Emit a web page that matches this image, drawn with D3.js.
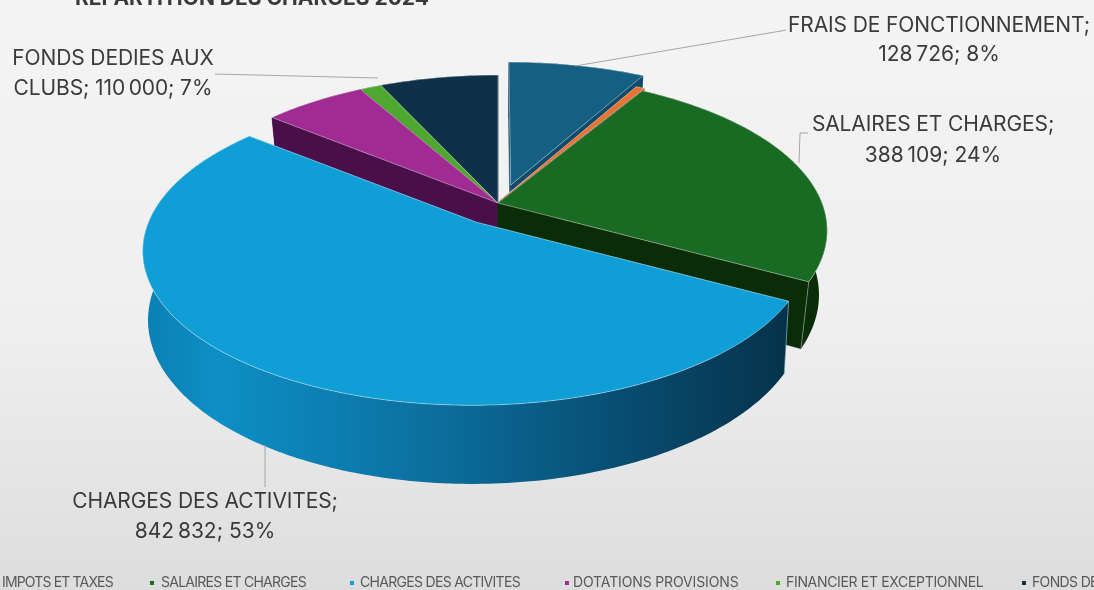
<!DOCTYPE html>
<html><head><meta charset="utf-8">
<script src="https://cdn.jsdelivr.net/npm/d3@7/dist/d3.min.js"></script>
<style>html,body{margin:0;padding:0;background:#eee;overflow:hidden}
svg{display:block;filter:blur(0.5px)}text{font-family:Inter,Roboto,sans-serif}</style>
</head><body><svg id="c" width="1094" height="590"></svg>
<script>
const chartTitle = "REPARTITION DES CHARGES 2024";
const categories = ["FRAIS DE FONCTIONNEMENT","IMPOTS ET TAXES","SALAIRES ET CHARGES","CHARGES DES ACTIVITES","DOTATIONS PROVISIONS","FINANCIER ET EXCEPTIONNEL","FONDS DEDIES AUX CLUBS"];
const values = [128726, 8000, 388109, 842832, 95000, 20000, 110000];
const topColors = ["#156082","#e97132","#196b24","#0f9ed5","#a02b93","#4ea72e","#0e3049"];
const wallColors = ["#0f4a6b","#a04d1f","#0a2d08","#0f9ed5","#4a0e4a","#2c6a18","#08222f"];

const W=1094,H=590;
const svg=d3.select("#c");
const defs=svg.append("defs");
const bg=defs.append("linearGradient").attr("id","bg").attr("x1",0).attr("y1",0).attr("x2",0).attr("y2",1);
bg.append("stop").attr("offset",0).attr("stop-color","#f4f4f4");
bg.append("stop").attr("offset",.55).attr("stop-color","#efefef");
bg.append("stop").attr("offset",1).attr("stop-color","#dddddd");
svg.append("rect").attr("width",W).attr("height",H).attr("fill","url(#bg)");
const bw=defs.append("linearGradient").attr("id","blueWall").attr("gradientUnits","userSpaceOnUse").attr("x1",140).attr("y1",0).attr("x2",790).attr("y2",0);
[[0,"#0a7fb2"],[.12,"#0d8fc6"],[.45,"#0c6f9e"],[.75,"#084c70"],[1,"#06324a"]].forEach(s=>bw.append("stop").attr("offset",s[0]).attr("stop-color",s[1]));

// perspective projection of the disc plane
const cx=498,cy=203,A=324,B=150.6,P=0.177,SHRINK=[0.975,0.975,0.975,0.985,0.975,0.975,0.975],DEPTHS=[63,63,63,66,63,63,63];
const proj=(X,Y,z,i)=>{const w=1+P*Y;const k=z?SHRINK[i]:1;
  return [cx+k*A*X/w, cy-k*B*Y/w+(z?DEPTHS[i]/w:0)];};
const pieGen=d3.pie().sort(null).startAngle(0).endAngle(2*Math.PI);
const arcs=pieGen(values);
// slice shift in the disc plane: [x,y], and rim scale: [x,y]
const shifts=[[0.04,0.121],[0.008,0.02],[0,0],[-0.065,-0.125],[0,0],[0,0],[0,0]];
const scales=[[1,1],[1,1],[1,1],[0.99,0.96],[1,1],[1,1],[1,1]];
const drawOrder=[0,1,6,5,4,2,3];
const line=d3.line();
const rim=(d,i,z)=>{const n=Math.max(3,Math.ceil((d.endAngle-d.startAngle)*60));
  return d3.range(n+1).map(j=>{const t=d.startAngle+(d.endAngle-d.startAngle)*j/n;
    return proj(scales[i][0]*Math.sin(t)+shifts[i][0],scales[i][1]*Math.cos(t)+shifts[i][1],z,i);});};
const g=svg.append("g");
drawOrder.forEach(i=>{const d=arcs[i];
  const top=rim(d,i,false),bot=rim(d,i,true);
  const a0=proj(shifts[i][0],shifts[i][1],false,i),a1=proj(shifts[i][0],shifts[i][1],true,i);
  // cut faces
  [[top[0],bot[0]],[top[top.length-1],bot[bot.length-1]]].forEach(p=>{
    g.append("path").attr("d",line([a0,p[0],p[1],a1])+"Z").attr("fill",i===3?"#0b5a80":wallColors[i])
     .attr("stroke",wallColors[i]).attr("stroke-width",.5);});
  // outer wall
  g.append("path").attr("d",line(top.concat(bot.slice().reverse()))+"Z")
   .attr("fill",i===3?"url(#blueWall)":wallColors[i]).attr("stroke","none");
  // pale vertical edge where the cut face meets the rim
  if(i===2||i===3){const e=top.length-1,ee=i===2?e:0;
    g.append("path").attr("d",line([top[ee],bot[ee]])).attr("stroke","#fff").attr("stroke-opacity",.4).attr("stroke-width",.9);}
  // top face
  g.append("path").attr("d",line([a0].concat(top))+"Z").attr("fill",topColors[i])
   .attr("stroke","#fff").attr("stroke-opacity",.45).attr("stroke-width",.9).attr("stroke-linejoin","round");
});

// leaders
const leaders=[[[786,30],[781,31],[575,66]],[[215,74],[378,78]],[[808,133],[800,133],[799,163]],[[265,487],[265,445]]];
svg.append("g").selectAll("path").data(leaders).join("path").attr("d",d=>line(d)).attr("fill","none").attr("stroke","#a6a6a6").attr("stroke-width",1);

// labels
const fr=d3.formatLocale({thousands:"\u202f",grouping:[3],decimal:",",currency:["",""]}).format(",");
const total=d3.sum(values);
const valTxt=i=>`${fr(values[i])}; ${Math.round(values[i]/total*100)}%`;
const labelLines=[
 {i:0,x:939,y:[32,61],t:[categories[0]+";",valTxt(0)]},
 {i:2,x:933,y:[131,162],t:[categories[2]+";",valTxt(2)]},
 {i:3,x:205,y:[508,538],t:[categories[3]+";",valTxt(3)]},
 {i:6,x:113,y:[65,95],t:["FONDS DEDIES AUX","CLUBS; "+valTxt(6)]}
];
labelLines.forEach(l=>l.t.forEach((s,k)=>svg.append("text").attr("x",l.x).attr("y",l.y[k]).attr("text-anchor","middle")
  .attr("font-size",21).attr("letter-spacing",-0.12).attr("fill","#3a3a3a").text(s)));

svg.append("text").attr("x",75).attr("y",5).attr("font-size",21).attr("font-weight",700).attr("fill","#3a3a3a").text(chartTitle);

// legend
const legendX=[-10,150,350,565,776,1022];
const legendTextX=[2,161,360,573,786,1032];
const legendTextW=[111,145,160,165,197,null];
legendX.forEach((x,k)=>{const i=k+1;
  svg.append("rect").attr("x",x).attr("y",581).attr("width",4).attr("height",4).attr("fill",topColors[i]);
  const t=svg.append("text").attr("x",legendTextX[k]).attr("y",587).attr("font-size",14).attr("letter-spacing",-0.65).attr("fill","#595959").text(categories[i]);
  if(legendTextW[k]) t.attr("textLength",legendTextW[k]).attr("lengthAdjust","spacing");
});
</script></body></html>
